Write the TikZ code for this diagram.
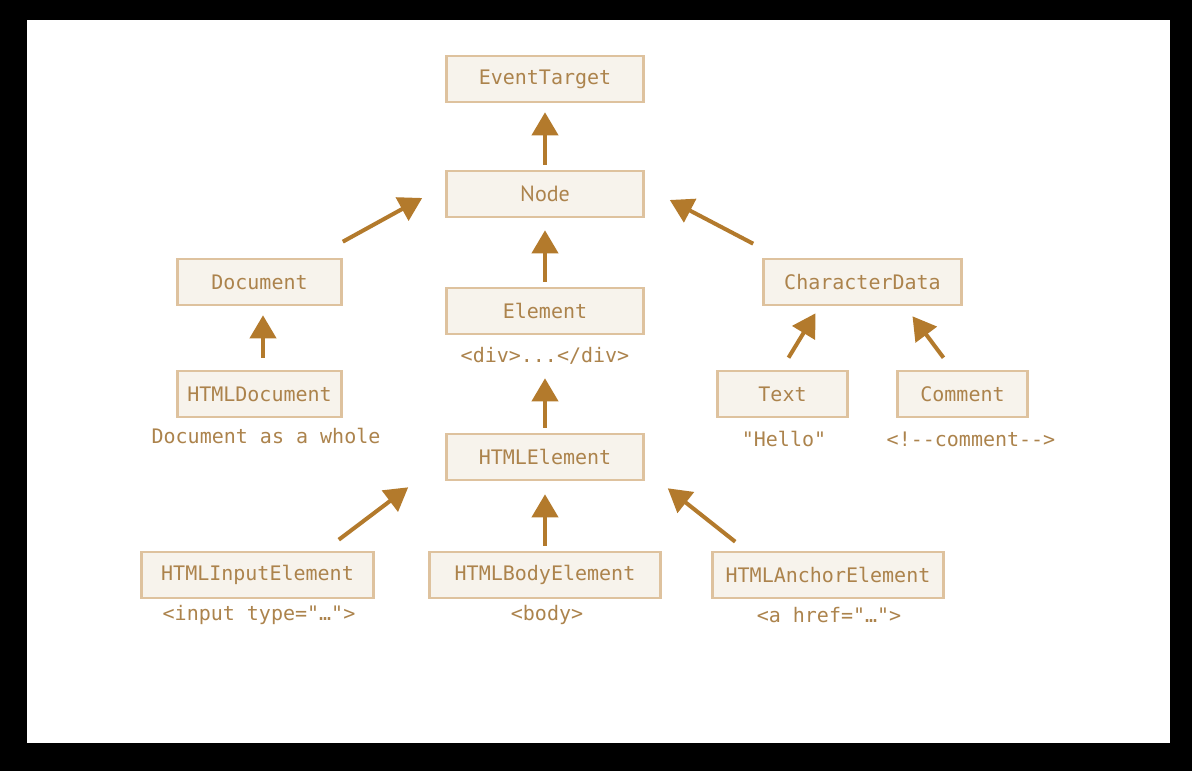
\documentclass[tikz,border=0pt]{standalone}
\usepackage{fontspec}
\setmonofont{DejaVu Sans Mono}
\newfontfamily\nodefont{PT Sans}
\usetikzlibrary{arrows.meta}
\definecolor{boxfill}{HTML}{F7F3EC}
\definecolor{boxline}{HTML}{DEC29E}
\definecolor{txt}{HTML}{AC834C}
\definecolor{arr}{HTML}{B37A2C}
\begin{document}
\begin{tikzpicture}[x=1pt,y=-1pt,
 cls/.style={draw=boxline, line width=2.6pt, fill=boxfill, minimum height=46pt, inner sep=0pt, text=txt, font=\ttfamily\fontsize{20}{22}\selectfont},
 lbl/.style={text=txt, font=\ttfamily\fontsize{20}{22}\selectfont, inner sep=0pt},
 inh/.style={draw=arr, line width=4pt, -{Triangle[length=23pt,width=26pt]}}]
\fill[black] (0,0) rectangle (1192,771);
\fill[white] (27,20) rectangle (1170,743);
\useasboundingbox (0,0) rectangle (1192,771);
% classes
\node[cls, minimum width=197pt] (et) at (545,79) {EventTarget};
\node[cls, minimum width=197pt, font=\nodefont\fontsize{22}{24}\selectfont] (nd) at (545,194) {Node};
\node[cls, minimum width=164pt] (doc) at (259.5,282) {Document};
\node[cls, minimum width=197pt] (el) at (545,311) {Element};
\node[cls, minimum width=198pt] (cd) at (862.5,282) {CharacterData};
\node[cls, minimum width=164pt] (hdoc) at (259.5,394) {HTMLDocument};
\node[cls, minimum width=130pt] (txtn) at (782.5,394) {Text};
\node[cls, minimum width=130pt] (com) at (962.5,394) {Comment};
\node[cls, minimum width=197pt] (hel) at (545,457) {HTMLElement};
\node[cls, minimum width=232pt] (inp) at (257.5,575) {HTMLInputElement};
\node[cls, minimum width=231pt] (body) at (545,575) {HTMLBodyElement};
\node[cls, minimum width=231pt] (anc) at (828,575) {HTMLAnchorElement};
% labels
\node[lbl] (divl) at (545,356) {<div>...</div>};
\node[lbl] (hdocl) at (266,436) {Document as a whole};
\node[lbl] (txtl) at (784,439) {"Hello"};
\node[lbl] (coml) at (971,439) {<!--comment-->};
\node[lbl] (inpl) at (259,615) {<input type="…">};
\node[lbl] (bodyl) at (547,615) {<body>};
\node[lbl] (ancl) at (829,615) {<a href="…">};
% arrows
\draw[inh] ([shift={(0,-5)}]nd.north) -- ([shift={(0,9)}]et.south);
\draw[inh] ([shift={(0,-5)}]el.north) -- ([shift={(0,12)}]nd.south);
\draw[inh] ([shift={(0,-5)}]hel.north) -- ([shift={(0,43)}]el.south);
\draw[inh] ([shift={(3.5,-12)}]hdoc.north) -- ([shift={(3.5,9)}]doc.south);
\draw[inh] ([shift={(0,-16)}]doc.north east) -- ([shift={(-23,4)}]nd.west);
\draw[inh] ([shift={(-9,-14)}]cd.north west) -- ([shift={(25,6)}]nd.east);
\draw[inh] ([shift={(6,-12)}]txtn.north) -- ([shift={(-47,7)}]cd.south);
\draw[inh] ([shift={(-19,-12)}]com.north) -- ([shift={(50,10)}]cd.south);
\draw[inh] ([shift={(-36,-11)}]inp.north east) -- ([shift={(-37,6)}]hel.south west);
\draw[inh] ([shift={(0,-5)}]body.north) -- ([shift={(0,13)}]hel.south);
\draw[inh] ([shift={(24,-9)}]anc.north west) -- ([shift={(23,7)}]hel.south east);
\end{tikzpicture}
\end{document}
